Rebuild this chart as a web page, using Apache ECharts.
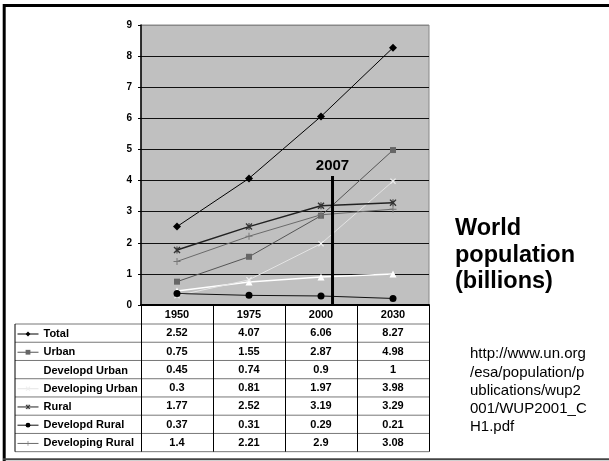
<!DOCTYPE html>
<html><head><meta charset="utf-8">
<script src="https://cdn.jsdelivr.net/npm/echarts@6/dist/echarts.min.js"></script>
<style>html,body{margin:0;padding:0;background:#fff}#c{width:609px;height:461px}</style>
</head><body><div id="c"></div>
<script>
// ---- data ----
const years = ['1950', '1975', '2000', '2030'];
const seriesNames = ['Total', 'Urban', 'Developd Urban', 'Developing Urban', 'Rural', 'Developd Rural', 'Developing Rural'];
const total = [2.52, 4.07, 6.06, 8.27];
const urban = [0.75, 1.55, 2.87, 4.98];
const developedUrban = [0.45, 0.74, 0.9, 1];
const developingUrban = [0.3, 0.81, 1.97, 3.98];
const rural = [1.77, 2.52, 3.19, 3.29];
const developedRural = [0.37, 0.31, 0.29, 0.21];
const developingRural = [1.4, 2.21, 2.9, 3.08];
const yMin = 0, yMax = 9, yStep = 1;
const eventLabel = '2007';
const eventPos = 2.66;   // position along the category band axis (0..4)
const eventTop = 4.15;
const titleText = 'World\npopulation\n(billions)';
const sourceText = 'http://www.un.org\n/esa/population/p\nublications/wup2\n001/WUP2001_C\nH1.pdf';

// ---- layout ----
const FONT = '"Liberation Sans", Arial, Helvetica, sans-serif';
const G = { left: 141, top: 25, width: 288, height: 280 };
const gBottom = G.top + G.height;
const rowTop = 324, rowH = 18.24, tableLeft = 15;
const tableRows = [total, urban, developedUrban, developingUrban, rural, developedRural, developingRural];

const X_PATH = 'path://M0,1.4L1.4,0L5,3.6L8.6,0L10,1.4L6.4,5L10,8.6L8.6,10L5,6.4L1.4,10L0,8.6L3.6,5Z';
const AST_PATH = 'path://M0,1.4L1.4,0L4.3,2.9L4.3,0L5.7,0L5.7,2.9L8.6,0L10,1.4L6.4,5L10,8.6L8.6,10L5.7,7.1L5.7,10L4.3,10L4.3,7.1L1.4,10L0,8.6L3.6,5Z';
const PLUS_PATH = 'path://M4.3,0H5.7V4.3H10V5.7H5.7V10H4.3V5.7H0V4.3H4.3Z';

const styles = [
  { line: '#000', w: 1, sym: 'diamond', size: 8, item: '#000' },
  { line: '#555', w: 1, sym: 'rect', size: 6, item: '#666' },
  { line: '#fff', w: 1.5, sym: 'triangle', size: 7, item: '#fff' },
  { line: '#e4e4e4', w: 1, sym: X_PATH, size: 6, item: '#eee' },
  { line: '#222', w: 1.5, sym: AST_PATH, size: 7, item: '#333' },
  { line: '#111', w: 1, sym: 'circle', size: 7, item: '#000' },
  { line: '#6a6a6a', w: 1, sym: PLUS_PATH, size: 7, item: '#777' }
];

const series = tableRows.map((arr, i) => ({
  name: seriesNames[i], type: 'line', data: arr,
  symbol: styles[i].sym, symbolSize: styles[i].size, showSymbol: true,
  lineStyle: { color: styles[i].line, width: styles[i].w },
  itemStyle: { color: styles[i].item, borderWidth: 0 },
  emphasis: { disabled: true }, z: 2
}));
series.push({
  name: eventLabel, type: 'line', xAxisIndex: 1, yAxisIndex: 0, z: 5, silent: true,
  symbol: 'circle', symbolSize: 0.01, showSymbol: true,
  lineStyle: { color: '#000', width: 3 }, itemStyle: { color: '#000' },
  label: { show: false },
  data: [[eventPos, 0], { value: [eventPos, eventTop], label: { show: true, formatter: eventLabel, position: 'top', distance: 3, fontSize: 15, fontWeight: 'bold', color: '#000', fontFamily: FONT } }]
});

const graphics = [];
for (let i = 0; i <= tableRows.length; i++) {
  const y = rowTop + i * rowH;
  graphics.push({ type: 'line', shape: { x1: tableLeft, y1: y, x2: G.left + G.width, y2: y }, style: { stroke: '#777', lineWidth: 1 }, silent: true });
}
graphics.push({ type: 'line', shape: { x1: tableLeft, y1: rowTop, x2: tableLeft, y2: rowTop + tableRows.length * rowH }, style: { stroke: '#000', lineWidth: 1 }, silent: true });
// slide frame
graphics.push({ type: 'line', shape: { x1: 3, y1: 5.5, x2: 609, y2: 5.5 }, style: { stroke: '#000', lineWidth: 3 }, silent: true });
graphics.push({ type: 'line', shape: { x1: 4.2, y1: 4, x2: 4.2, y2: 461 }, style: { stroke: '#000', lineWidth: 3 }, silent: true });
graphics.push({ type: 'line', shape: { x1: 3, y1: 459.3, x2: 609, y2: 459.3 }, style: { stroke: '#444', lineWidth: 2 }, silent: true });

const splitColors = [];
for (let v = yMin; v <= yMax; v += yStep) splitColors.push(v === yMax ? '#888' : '#111');

const legendIconH = 6;

const chart = echarts.init(document.getElementById('c'), null, { renderer: 'canvas' });
chart.setOption({
  animation: false,
  backgroundColor: '#fff',
  textStyle: { fontFamily: FONT },
  title: [
    { text: titleText, left: 455, top: 215, padding: 0, textStyle: { fontSize: 23.5, fontWeight: 'bold', lineHeight: 26.7, color: '#000', fontFamily: FONT } },
    { text: sourceText, left: 470, top: 345, padding: 0, textStyle: { fontSize: 15, fontWeight: 'normal', lineHeight: 18.3, color: '#000', fontFamily: FONT } }
  ],
  legend: {
    data: seriesNames, orient: 'vertical', left: 17, top: 328, padding: 0,
    itemWidth: 21, itemHeight: legendIconH, itemGap: rowH - 12, selectedMode: false,
    lineStyle: { width: 1 },
    textStyle: { fontSize: 11, fontWeight: 'bold', color: '#000', lineHeight: 12, fontFamily: FONT }
  },
  grid: { left: G.left, top: G.top, width: G.width, height: G.height, show: true, backgroundColor: '#c0c0c0', borderColor: '#888', borderWidth: 1, containLabel: false },
  xAxis: [
    {
      type: 'category', data: years, boundaryGap: true, position: 'bottom',
      axisLine: { show: true, lineStyle: { color: '#000', width: 2 } },
      axisTick: { show: true, length: rowTop + tableRows.length * rowH - gBottom, inside: false, lineStyle: { color: '#000', width: 1 } },
      axisLabel: {
        interval: 0, margin: 1, fontSize: 11, fontWeight: 'bold', color: '#000', lineHeight: rowH, fontFamily: FONT,
        formatter: (v, i) => [v].concat(tableRows.map(r => String(r[i]))).join('\n')
      },
      splitLine: { show: false }
    },
    { type: 'value', min: 0, max: years.length, show: false }
  ],
  yAxis: {
    type: 'value', min: yMin, max: yMax, interval: yStep,
    axisLine: { show: true, lineStyle: { color: '#000', width: 1.5 } },
    axisTick: { show: true, length: 3, lineStyle: { color: '#000' } },
    axisLabel: { fontSize: 10, fontWeight: 'bold', color: '#000', margin: 9, fontFamily: FONT },
    splitLine: { show: true, lineStyle: { color: splitColors, width: 1 } }
  },
  graphic: graphics,
  series: series
});
</script></body></html>
